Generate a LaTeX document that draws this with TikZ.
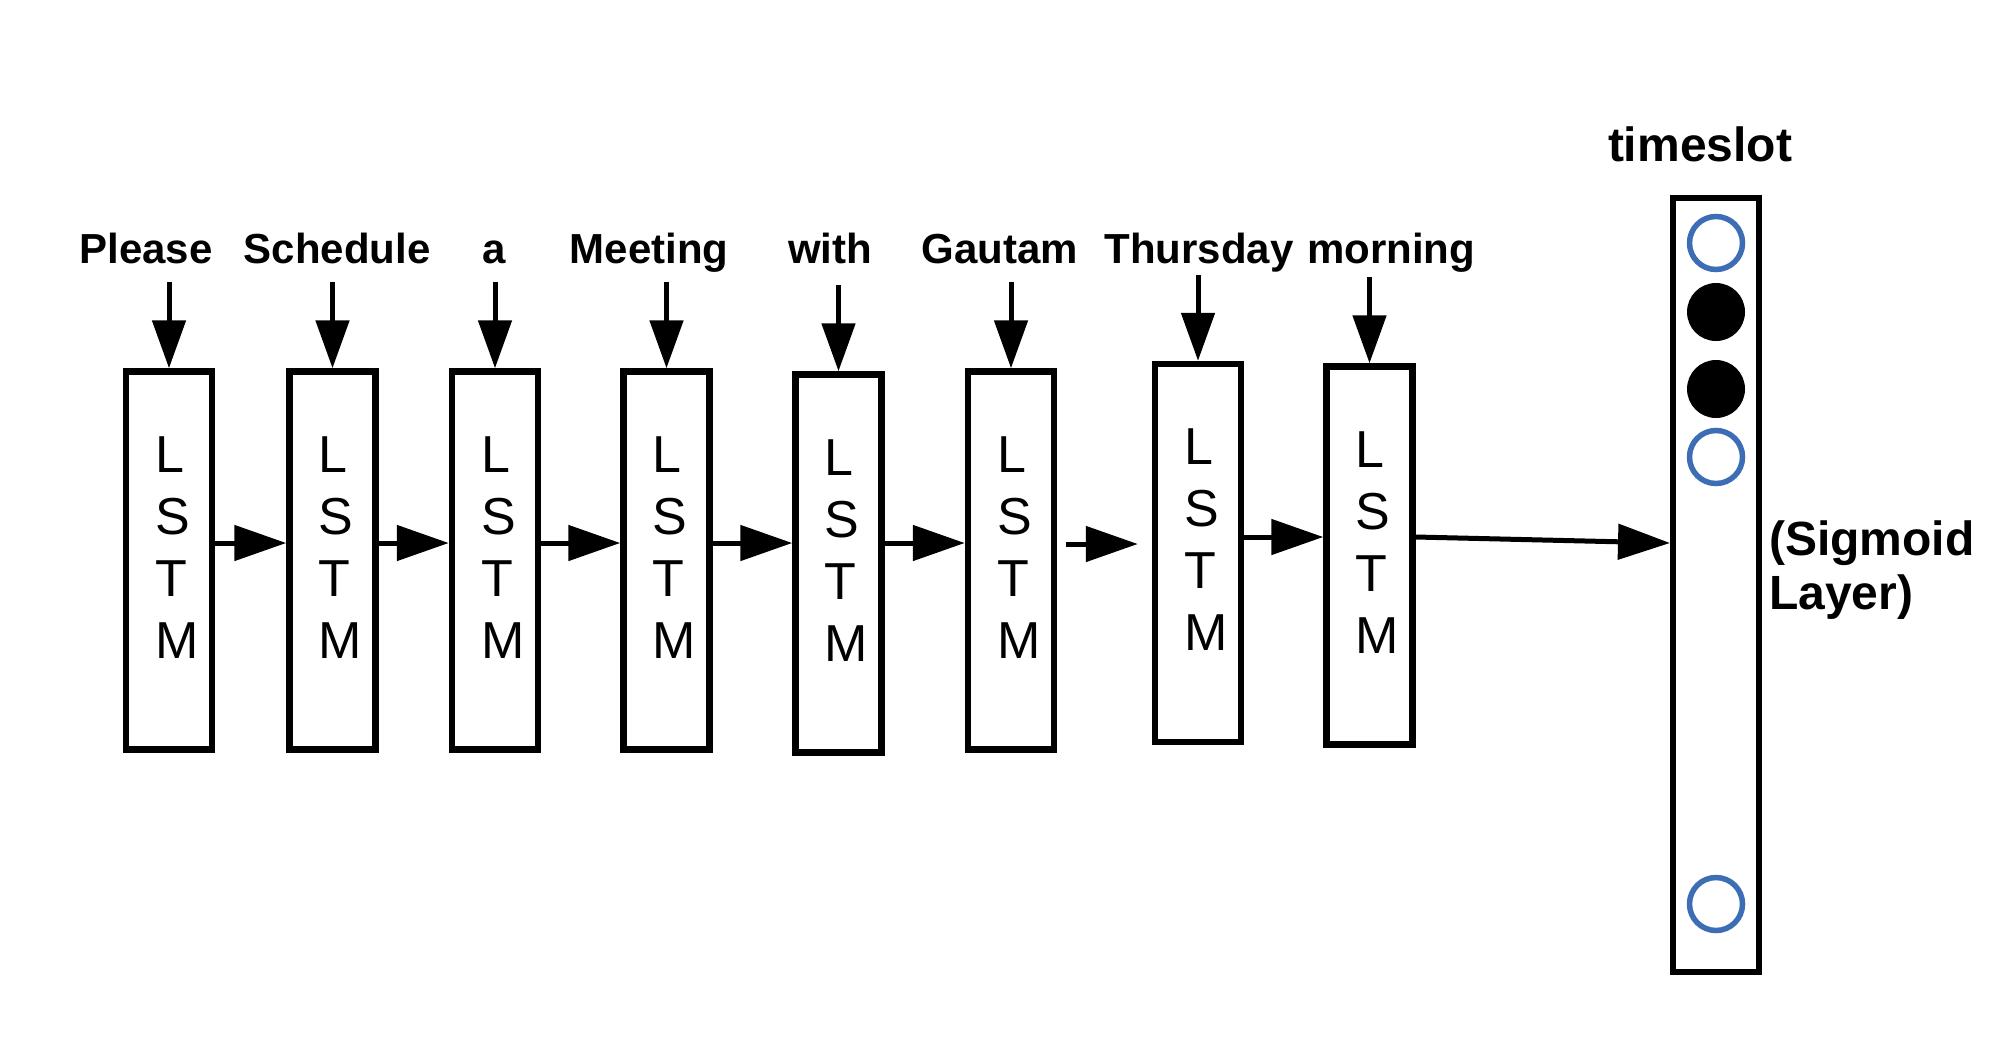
\documentclass[tikz,border=0pt]{standalone}
\usepackage{fontspec}
\setmainfont{Liberation Sans}
\usetikzlibrary{arrows.meta}
\definecolor{ringblue}{RGB}{61,109,180}
\begin{document}
\begin{tikzpicture}[x=1pt,y=-1pt,
  lstmbox/.style={draw,line width=6.5pt,minimum width=86pt,minimum height=378pt,inner sep=0pt},
  lstmtxt/.style={font=\fontsize{52}{62}\selectfont,align=left,inner sep=0pt,anchor=north west},
  word/.style={font=\fontsize{42}{50}\selectfont\bfseries,inner sep=0pt,anchor=base},
  harrow/.style={line width=5pt,-{Triangle[length=52pt,width=35pt]}},
  varrow/.style={line width=5pt,-{Triangle[length=48pt,width=33pt]}},
  ring/.style={circle,draw=ringblue,line width=5.5pt,minimum size=53pt,inner sep=0pt},
  dot/.style={circle,fill=black,minimum size=58pt,inner sep=0pt}]
\useasboundingbox (0,0) rectangle (1994,1042);
% LSTM boxes
\node[lstmbox] (b1) at (169,560.5) {};
\node[lstmbox] (b2) at (332.5,560.5) {};
\node[lstmbox] (b3) at (495,560.5) {};
\node[lstmbox] (b4) at (666.5,560.5) {};
\node[lstmbox] (b5) at (838.5,563.5) {};
\node[lstmbox] (b6) at (1011,560.5) {};
\node[lstmbox] (b7) at (1198,553) {};
\node[lstmbox] (b8) at (1369.5,555.5) {};
\foreach \i in {1,...,8}{
  \node[lstmtxt] (l\i) at ([shift={(-14,-124)}]b\i.center) {L\\S\\T\\M};
}
% words
\node[word] (w1) at (146,263) {Please};
\node[word] (w2) at (337,263) {Schedule};
\node[word] (w3) at (494,263) {a};
\node[word] (w4) at (649,263) {Meeting};
\node[word] (w5) at (830,263) {with};
\node[word] (w6) at (1000,263) {Gautam};
\node[word] (w7) at (1199,263) {Thursday};
\node[word] (w8) at (1391,263) {morning};
\foreach \i in {1,...,8}{
  \draw[varrow] ([yshift=86pt]b\i.north) -- (b\i.north);
}
% sigmoid layer
\node[draw,line width=6pt,minimum width=86pt,minimum height=774pt,inner sep=0pt] (sig) at (1716,585) {};
\node[ring] (c1) at (1716,243) {};
\node[dot] (c2) at (1716,312) {};
\node[dot] (c3) at (1716,389) {};
\node[ring] (c4) at (1716,457) {};
\node[ring] (c5) at (1716,904) {};
\node[font=\fontsize{48}{54}\selectfont\bfseries,inner sep=0pt,anchor=base] (ts) at (1700,161) {timeslot};
\node[font=\fontsize{48}{54}\selectfont\bfseries,align=left,inner sep=0pt,anchor=north west] (sl) at (1769,521) {(Sigmoid\\Layer)};
% recurrent arrows
\draw[harrow] ([yshift=17.5pt]b1.east) -- ([yshift=17.5pt]b2.west);
\draw[harrow] ([yshift=17.5pt]b2.east) -- ([yshift=17.5pt]b3.west);
\draw[harrow] ([yshift=17.5pt]b3.east) -- ([yshift=17.5pt]b4.west);
\draw[harrow] ([yshift=17.5pt]b4.east) -- ([yshift=20.5pt]b5.west);
\draw[harrow] ([yshift=20.5pt]b5.east) -- ([yshift=17.5pt]b6.west);
\draw[harrow] ([xshift=9pt,yshift=16.5pt]b6.east) -- ([xshift=-14pt,yshift=9pt]b7.west);
\draw[harrow] ([yshift=16pt]b7.east) -- ([yshift=18.5pt]b8.west);
\draw[harrow] ([yshift=18.5pt]b8.east) -- ([yshift=42pt]sig.west);
\end{tikzpicture}
\end{document}
